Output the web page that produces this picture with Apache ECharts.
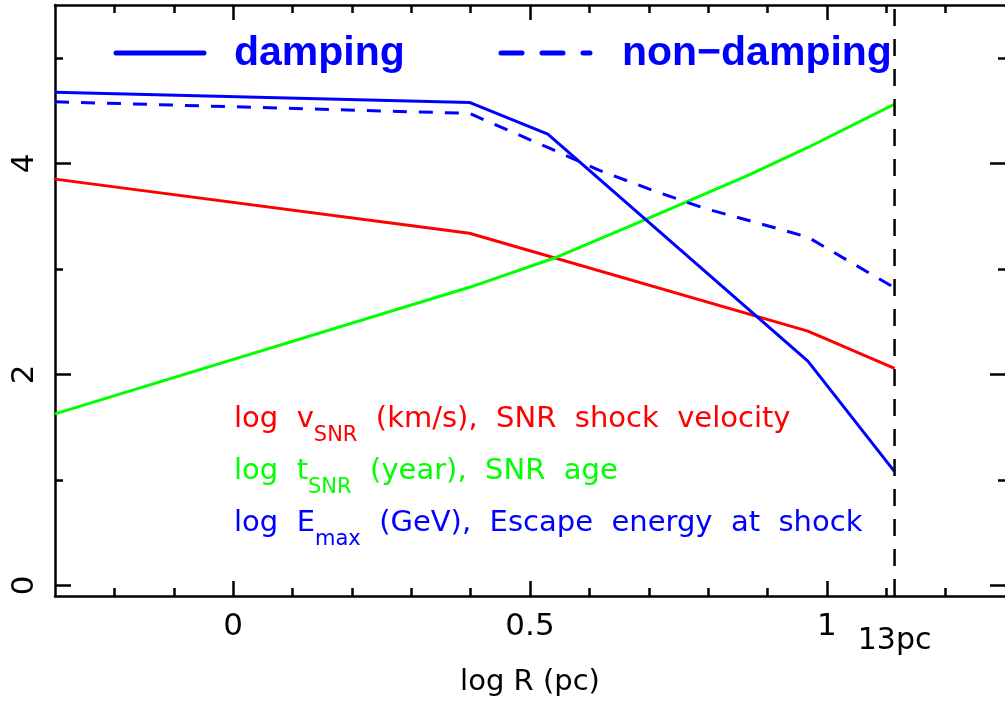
<!DOCTYPE html>
<html>
<head>
<meta charset="utf-8">
<script src="https://cdn.jsdelivr.net/npm/echarts@6/dist/echarts.min.js"></script>
<style>
  html, body { margin: 0; padding: 0; background: #fff; }
  #chart { width: 1005px; height: 711px; }
</style>
</head>
<body>
<div id="chart"></div>
<script>
// values (log R in pc)
const rVel = [-0.3, 0.398, 0.968, 1.114];
const logVel = [3.85, 3.337, 2.41, 2.056];

const rAge = [-0.3, 0.398, 0.54, 0.70, 0.869, 0.968, 1.114];
const logAge = [1.626, 2.825, 3.10, 3.48, 3.89, 4.15, 4.56];

const rDamp = [-0.3, 0.398, 0.53, 0.968, 1.114];
const logEDamp = [4.673, 4.577, 4.276, 2.125, 1.079];

const rNonDamp = [-0.3, 0.398, 0.53, 0.616, 0.706, 0.793, 0.88, 0.968, 1.114];
const logENonDamp = [4.583, 4.473, 4.15, 3.935, 3.745, 3.575, 3.44, 3.30, 2.82];

const boundaryR = [1.114];
const boundaryLabel = ['13pc'];

const xMajor = [0, 0.5, 1];
const xMinor = [-0.2, -0.1, 0.1, 0.2, 0.3, 0.4, 0.6, 0.7, 0.8, 0.9, 1.1, 1.2];
const yMajor = [0, 2, 4];
const yMinor = [1, 3, 5];

const FONT = 'DejaVu Sans';
const pairs = (xs, ys) => xs.map((x, i) => [x, ys[i]]);

function xAxisDef(position, ticks, len, extra) {
	return Object.assign({
		type: 'value', position: position, min: -0.3, max: 1.3,
		axisLine: { show: false, onZero: false },
		axisTick: { show: true, inside: true, length: len, customValues: ticks, lineStyle: { color: '#000', width: 2.5 } },
		axisLabel: { show: false },
		splitLine: { show: false }
	}, extra || {});
}
function yAxisDef(position, ticks, len, extra) {
	return Object.assign({
		type: 'value', position: position, min: -0.1, max: 5.5,
		axisLine: { show: false, onZero: false },
		axisTick: { show: true, inside: true, length: len, customValues: ticks, lineStyle: { color: '#000', width: 2.5 } },
		axisLabel: { show: false },
		splitLine: { show: false }
	}, extra || {});
}
const blackLine = { show: true, onZero: false, lineStyle: { color: '#000', width: 2.5 } };

const chart = echarts.init(document.getElementById('chart'));

function annotation(top, color, head, sub, tail) {
	return {
		type: 'text', left: 234, top: top,
		style: {
			text: '{m|' + head + '}{s|' + sub + '}{m|' + tail + '}',
			rich: {
				m: { fontFamily: FONT, fontSize: 29, lineHeight: 32, fill: color, verticalAlign: 'top' },
				s: { fontFamily: FONT, fontSize: 21, lineHeight: 21, padding: [20, 0, 0, 0], fill: color, verticalAlign: 'top' }
			}
		}
	};
}

const option = {
	animation: false,
	backgroundColor: '#fff',
	grid: { left: 55, top: 5, right: -1, bottom: 115 },
	xAxis: [
		xAxisDef('bottom', xMajor, 15, {
			axisLine: blackLine,
			axisLabel: { show: true, customValues: xMajor, margin: 15, color: '#000', fontFamily: FONT, fontSize: 31,
				formatter: v => String(v) },
			name: 'log R (pc)', nameLocation: 'middle', nameGap: 72,
			nameTextStyle: { color: '#000', fontFamily: FONT, fontSize: 29 }
		}),
		xAxisDef('bottom', xMinor, 8),
		xAxisDef('bottom', [], 0, {
			axisTick: { show: false },
			axisLabel: { show: true, customValues: boundaryR, margin: 30, color: '#000', fontFamily: FONT, fontSize: 30,
				formatter: v => boundaryLabel[boundaryR.indexOf(v)] || '' }
		}),
		xAxisDef('top', xMajor, 15, { axisLine: blackLine }),
		xAxisDef('top', xMinor, 8)
	],
	yAxis: [
		yAxisDef('left', yMajor, 16, {
			axisLine: blackLine,
			axisLabel: { show: true, customValues: yMajor, rotate: 90, margin: 15, color: '#000', fontFamily: FONT, fontSize: 31 }
		}),
		yAxisDef('left', yMinor, 8),
		yAxisDef('right', yMajor, 15),
		yAxisDef('right', yMinor, 7)
	],
	series: [
		{
			name: 'velocity', type: 'line', symbol: 'none', data: pairs(rVel, logVel),
			lineStyle: { color: '#ff0000', width: 3 }
		},
		{
			name: 'age', type: 'line', symbol: 'none', data: pairs(rAge, logAge),
			lineStyle: { color: '#00ff00', width: 3 }
		},
		{
			name: 'damping', type: 'line', symbol: 'none', data: pairs(rDamp, logEDamp),
			lineStyle: { color: '#0000ff', width: 3 }
		},
		{
			name: 'non-damping', type: 'line', symbol: 'none', data: pairs(rNonDamp, logENonDamp),
			lineStyle: { color: '#0000ff', width: 3, type: [14, 12] }
		},
		{
			name: 'boundary', type: 'line', symbol: 'none',
			data: [[boundaryR[0], -0.1], [boundaryR[0], 5.5]],
			lineStyle: { color: '#000', width: 2.5, type: [17, 13] }
		}
	],
	graphic: [
		// legend
		{ type: 'line', shape: { x1: 116, y1: 53, x2: 204, y2: 53 },
			style: { stroke: '#0000ff', lineWidth: 5, lineCap: 'round' } },
		{ type: 'text', left: 234, top: 33,
			style: { text: 'damping', fill: '#0000ff', font: 'bold 41px "Liberation Sans"' } },
		{ type: 'line', shape: { x1: 501, y1: 53, x2: 590, y2: 53 },
			style: { stroke: '#0000ff', lineWidth: 5, lineCap: 'round', lineDash: [21, 20] } },
		{ type: 'text', left: 622, top: 33,
			style: { text: 'non\u2212damping', fill: '#0000ff', font: 'bold 41px "Liberation Sans"' } },
		// annotations
		annotation(405, '#ff0000', 'log  v', 'SNR', '  (km/s),  SNR  shock  velocity'),
		annotation(457, '#00ff00', 'log  t', 'SNR', '  (year),  SNR  age'),
		annotation(509, '#0000ff', 'log  E', 'max', '  (GeV),  Escape  energy  at  shock')
	]
};

chart.setOption(option);
</script>
</body>
</html>
